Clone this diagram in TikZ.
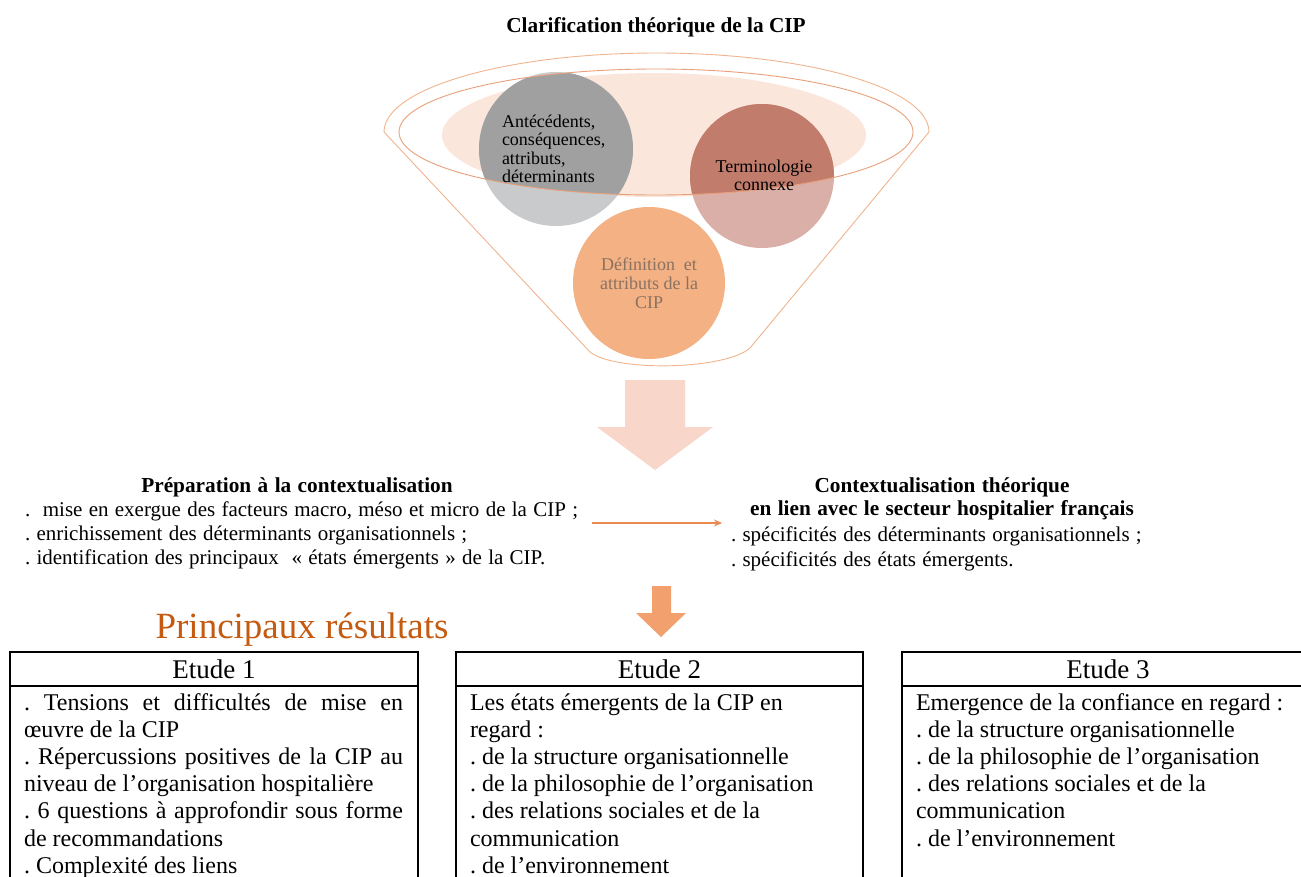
\documentclass[tikz,border=0pt]{standalone}
\usepackage{fontspec}
\setmainfont{Liberation Serif}
\newfontfamily\midfont{Liberation Serif}[WordSpace=1.2]
\usetikzlibrary{arrows.meta}
\definecolor{fline}{HTML}{F0B48E}
\definecolor{iline}{HTML}{E9A07A}
\definecolor{pinkfill}{HTML}{FBE6DC}
\definecolor{grayD}{HTML}{A0A0A0}
\definecolor{grayL}{HTML}{C8CACC}
\definecolor{termD}{HTML}{C27C6C}
\definecolor{termL}{HTML}{D9AFA7}
\definecolor{defC}{HTML}{F4B183}
\definecolor{defT}{HTML}{8A7262}
\definecolor{bigarrow}{HTML}{F8D6C9}
\definecolor{smallarrow}{HTML}{F1A06E}
\definecolor{harrow}{HTML}{EA8A50}
\definecolor{resC}{HTML}{C55A11}
\frenchspacing
\begin{document}
\frenchspacing
\begin{tikzpicture}[x=1pt,y=-1pt,
  plain/.style={inner sep=0pt,outer sep=0pt},
  mid/.style={plain,font=\midfont\fontsize{21pt}{24pt}\selectfont},
  midbold/.style={plain,font=\midfont\fontsize{21.3pt}{23pt}\selectfont\bfseries},
  circtxt/.style={plain,font=\fontsize{18pt}{18.6pt}\selectfont},
  boxtxt/.style={plain,anchor=base west,font=\fontsize{24pt}{27.2pt}\selectfont},
  hdr/.style={draw=black,line width=1.6pt,inner sep=0pt,minimum height=34pt,font=\fontsize{27pt}{30pt}\selectfont},
  frame/.style={draw=black,line width=1.6pt}]
\useasboundingbox (0,0) rectangle (1301,876);
\clip (0,0) rectangle (1301,876);
\fill[white] (0,0) rectangle (1301,876);

% title
\node[plain,anchor=base,font=\fontsize{21.3pt}{24pt}\selectfont\bfseries] (title) at (656,32) {Clarification théorique de la CIP};

% funnel
\draw[fline,line width=0.9pt] (384,132) -- (590,352) .. controls (615,372) and (725,370) .. (750,348) -- (929,132)
  arc[start angle=0,end angle=180,x radius=272.5pt,y radius=79pt];
\fill[pinkfill] (654,135) ellipse[x radius=212pt,y radius=62pt];
\fill[grayL] (556,149) circle[radius=77pt];
\fill[termL] (762,176) circle[radius=72pt];
\begin{scope}
  \clip (656,132) ellipse[x radius=257pt,y radius=63pt];
  \fill[grayD] (556,149) circle[radius=77pt];
  \fill[termD] (762,176) circle[radius=72pt];
\end{scope}
\draw[iline,line width=0.9pt] (656,132) ellipse[x radius=257pt,y radius=63pt];
\fill[defC] (649,283) circle[radius=76pt];

\node[circtxt,anchor=base west] (ante) at (502,127) {\begin{tabular}[t]{@{}l@{}}Antécédents,\\conséquences,\\attributs,\\déterminants\end{tabular}};
\node[circtxt,anchor=base] (term) at (764,172) {\begin{tabular}[t]{@{}c@{}}Terminologie\\connexe\end{tabular}};
\node[circtxt,anchor=base,text=defT,font=\fontsize{18pt}{19.2pt}\selectfont] (defi) at (649,270) {\begin{tabular}[t]{@{}c@{}}Définition\ \ et\\attributs\ de\ la\\CIP\end{tabular}};

% big light arrow
\fill[bigarrow] (625,380) -- (685,380) -- (685,427) -- (713,427) -- (655,470) -- (597,427) -- (625,427) -- cycle;

% left block
\node[midbold,anchor=base] (prepT) at (297,492) {Préparation à la contextualisation};
\node[mid,anchor=base west] (prepB) at (25,516) {\begin{tabular}[t]{@{}l@{}}.\ \ mise en exergue des facteurs macro, méso et micro de la CIP ;\\. enrichissement des déterminants organisationnels ;\\. identification des principaux\ \ « états émergents » de la CIP.\end{tabular}};

% right block
\node[midbold,anchor=base] (ctxT) at (942,492) {\begin{tabular}[t]{@{}c@{}}Contextualisation théorique\\en lien avec le secteur hospitalier français\end{tabular}};
\node[mid,anchor=base west,font=\midfont\fontsize{21pt}{25pt}\selectfont] (ctxB) at (731,541) {\begin{tabular}[t]{@{}l@{}}. spécificités des déterminants organisationnels ;\\. spécificités des états émergents.\end{tabular}};

% horizontal arrow
\coordinate (h1) at (592,523);
\coordinate (h2) at (722,523);
\draw[harrow,line width=1.8pt,-{Stealth[length=8pt,width=7pt]}] (h1) -- (h2);

% small arrow
\fill[smallarrow] (652,586) -- (671,586) -- (671,613) -- (686,613) -- (661,637) -- (636,613) -- (652,613) -- cycle;

% Principaux résultats
\node[plain,anchor=base,text=resC,font=\fontsize{37pt}{40pt}\selectfont] (res) at (302,638) {Principaux résultats};

% boxes
\node[hdr,minimum width=408pt] (e1) at (214,669) {Etude 1};
\node[hdr,minimum width=407pt] (e2) at (659.5,669) {Etude 2};
\node[hdr,minimum width=412pt] (e3) at (1108,669) {Etude 3};
\draw[frame] (10,686) -- (10,900);
\draw[frame] (418,686) -- (418,900);
\draw[frame] (456,686) -- (456,900);
\draw[frame] (863,686) -- (863,900);
\draw[frame] (902,686) -- (902,900);

\node[boxtxt] (b1) at (24,710) {\begin{tabular}[t]{@{}l@{}}\makebox[379pt][s]{. Tensions et difficultés de mise en}\\œuvre de la CIP\\\makebox[379pt][s]{. Répercussions positives de la CIP au}\\niveau de l’organisation hospitalière\\\makebox[379pt][s]{. 6 questions à approfondir sous forme}\\de recommandations\\. Complexité des liens\end{tabular}};
\node[boxtxt] (b2) at (470,710) {\begin{tabular}[t]{@{}l@{}}Les états émergents de la CIP en\\regard :\\. de la structure organisationnelle\\. de la philosophie de l’organisation\\. des relations sociales et de la\\communication\\. de l’environnement\end{tabular}};
\node[boxtxt] (b3) at (916,710) {\begin{tabular}[t]{@{}l@{}}Emergence de la confiance en regard :\\. de la structure organisationnelle\\. de la philosophie de l’organisation\\. des relations sociales et de la\\communication\\. de l’environnement\end{tabular}};
\end{tikzpicture}
\end{document}
